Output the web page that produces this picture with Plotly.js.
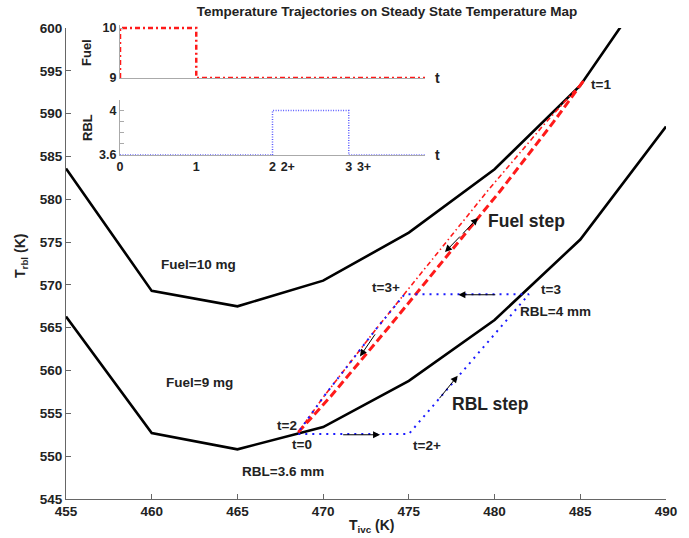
<!DOCTYPE html>
<html>
<head>
<meta charset="utf-8">
<script src="https://cdn.plot.ly/plotly-3.0.1.min.js"></script>
<style>html,body{margin:0;padding:0;background:#fff;}#chart{width:689px;height:538px;}</style>
</head>
<body>
<div id="chart"></div>
<script>
// Steady state temperature map curves
const tivcGrid = [455, 460, 465, 470, 475, 480, 485, 490];
const trblFuel10 = [583.6, 569.3, 567.5, 570.5, 576.1, 583.5, 593.3, 607.8];
const trblFuel9 = [566.3, 552.7, 550.8, 553.4, 558.8, 565.9, 575.3, 588.5];

// Fuel step trajectories (t=0 -> t=1 and t=1 -> t=2)
const fuelUpX = [468.55, 470.45, 473.80, 477.09, 480.34, 483.43, 485.2];
const fuelUpY = [552.8, 557, 565, 573, 581, 589, 593.85];
const fuelDownX = [485.2, 483.0, 479.6, 476.35, 473.15, 470.05, 468.55];
const fuelDownY = [593.85, 589, 581, 573, 565, 557, 552.8];

// RBL step trajectory (t=2 -> 2+ -> 3 -> 3+ -> back to t=0)
const rblPathX = [468.55, 475.0, 482.0, 474.75, 473.15, 470.05, 468.55];
const rblPathY = [552.6, 552.6, 568.9, 568.9, 565, 557, 552.8];

// Inset: input profiles over time
const fuelT = [0, 0, 1, 1, 4];
const fuelV = [9, 10, 10, 9, 9];
const rblT = [0, 2, 2, 3, 3, 4];
const rblV = [3.6, 3.6, 4, 4, 3.6, 3.6];
const insetTickVals = [0, 1, 2, 2.2, 3, 3.2];
const insetTickText = ['0', '1', '2', '2+', '3', '3+'];

// Labels
const labels = [
  {text: 'Fuel=10 mg', x: 462.7, y: 572.44, size: 13.5},
  {text: 'Fuel=9 mg', x: 462.76, y: 558.55, size: 13.5},
  {text: 'RBL=3.6 mm', x: 467.66, y: 548.27, size: 13.5},
  {text: 'RBL=4 mm', x: 483.58, y: 566.95, size: 13.5},
  {text: 't=1', x: 486.21, y: 593.46, size: 13.5},
  {text: 't=3', x: 483.29, y: 569.52, size: 13.5},
  {text: 't=3+', x: 473.67, y: 569.64, size: 13.5},
  {text: 't=2', x: 467.89, y: 553.64, size: 13.5},
  {text: 't=0', x: 468.77, y: 551.42, size: 13.5},
  {text: 't=2+', x: 476.06, y: 551.19, size: 13.5},
  {text: 'Fuel step', x: 481.89, y: 577.46, size: 17.5},
  {text: 'RBL step', x: 479.79, y: 556.09, size: 17.5}
];

// Direction arrows [tailX, tailY, headX, headY]
const arrows = [
  [478.07, 575.83, 479.03, 577.81],
  [478.07, 575.83, 477.11, 573.84],
  [473.09, 564.4, 472.15, 561.65],
  [471.08, 552.5, 473.32, 552.5],
  [480.13, 568.85, 477.89, 568.85],
  [476.72, 556.6, 477.85, 559.4]
];

const FONT = 'Liberation Sans, Arial, Helvetica, sans-serif';
const TXT = '#222';

const traces = [
  {x: tivcGrid, y: trblFuel10, mode: 'lines', line: {color: '#000', width: 2.6}, xaxis: 'x', yaxis: 'y'},
  {x: tivcGrid, y: trblFuel9, mode: 'lines', line: {color: '#000', width: 2.6}, xaxis: 'x', yaxis: 'y'},
  {x: fuelUpX, y: fuelUpY, mode: 'lines', line: {color: '#ff1a1a', width: 3, dash: '8px,4px'}, xaxis: 'x', yaxis: 'y'},
  {x: fuelDownX, y: fuelDownY, mode: 'lines', line: {color: '#ff1a1a', width: 1.6, dash: '5px,3px,1.5px,3px'}, xaxis: 'x', yaxis: 'y'},
  {x: rblPathX, y: rblPathY, mode: 'lines', line: {color: '#1a1aff', width: 2, dash: '2px,5px'}, xaxis: 'x', yaxis: 'y'},
  {x: fuelT, y: fuelV, mode: 'lines', line: {color: '#ff1a1a', width: 2.5, dash: '5px,3px,2px,3px'}, xaxis: 'x2', yaxis: 'y2'},
  {x: rblT, y: rblV, mode: 'lines', line: {color: '#5a5aff', width: 1.5, dash: '1px,1.5px'}, xaxis: 'x3', yaxis: 'y3'}
];

const H = 484; // plot height in px (538 - 15 - 39)
const py = p => (499 - p) / H;
const px = p => (p - 66) / 600;

const annotations = [];
labels.forEach(l => annotations.push({
  text: l.text, x: l.x, y: l.y, xref: 'x', yref: 'y', showarrow: false,
  xanchor: 'center', yanchor: 'middle',
  font: {family: FONT, size: l.size, color: TXT, weight: 'bold'}
}));
arrows.forEach(a => annotations.push({
  text: '', x: a[2], y: a[3], ax: a[0], ay: a[1], xref: 'x', yref: 'y', axref: 'x', ayref: 'y',
  showarrow: true, arrowhead: 2, arrowsize: 1.4, arrowwidth: 1, arrowcolor: '#000', standoff: 0
}));
const paperText = (text, x, y, size, angle) => ({
  text: text, x: px(x), y: py(y), xref: 'paper', yref: 'paper', showarrow: false,
  xanchor: 'center', yanchor: 'middle', textangle: angle || 0,
  font: {family: FONT, size: size, color: TXT, weight: 'bold'}
});
annotations.push(
  paperText('T<sub>ivc</sub> (K)', 372, 526, 14),
  paperText('T<sub>rbl</sub> (K)', 21, 256, 14, -90),
  paperText('Fuel', 87, 53, 13, -90),
  paperText('RBL', 87, 128, 13, -90),
  paperText('t', 437, 78, 14),
  paperText('t', 437, 155, 14)
);

const tickFont = {family: FONT, size: 13.5, color: TXT, weight: 'bold'};
const insetFont = {family: FONT, size: 12.5, color: TXT, weight: 'bold'};

const layout = {
  width: 689, height: 538,
  margin: {l: 66, r: 23, t: 15, b: 39},
  paper_bgcolor: '#fff', plot_bgcolor: 'rgba(0,0,0,0)',
  showlegend: false,
  title: {text: 'Temperature Trajectories on Steady State Temperature Map',
          x: 387 / 689, xanchor: 'center', y: 1 - 11 / 538, yanchor: 'middle',
          font: {family: FONT, size: 13.5, color: TXT, weight: 'bold'}},
  xaxis: {domain: [0, 1], range: [455, 490], dtick: 5, tick0: 455, ticks: 'inside', ticklen: 5,
          tickcolor: '#666', showline: true, linecolor: '#666', linewidth: 1, showgrid: false, zeroline: false,
          tickfont: tickFont, anchor: 'y', fixedrange: true},
  yaxis: {domain: [0, 471 / H], range: [545, 600], dtick: 5, tick0: 545, ticks: 'inside', ticklen: 5,
          tickcolor: '#666', showline: true, linecolor: '#666', linewidth: 1, showgrid: false, zeroline: false,
          tickfont: tickFont, anchor: 'x', fixedrange: true},
  xaxis2: {domain: [px(120), px(425)], range: [0, 4], anchor: 'y2', showline: true, linecolor: '#aaa',
           showticklabels: false, ticks: '', showgrid: false, zeroline: false, fixedrange: true},
  yaxis2: {domain: [py(78), py(25)], range: [9, 10.06], anchor: 'x2', showline: true, linecolor: '#aaa',
           tickvals: [9, 10], ticktext: ['9', '10'], ticks: 'inside', ticklen: 3, tickcolor: '#aaa',
           showgrid: false, zeroline: false, tickfont: insetFont, fixedrange: true},
  xaxis3: {domain: [px(120), px(425)], range: [0, 4], anchor: 'y3', showline: true, linecolor: '#aaa',
           tickvals: insetTickVals, ticktext: insetTickText, ticks: '', showgrid: false, zeroline: false,
           tickfont: insetFont, fixedrange: true},
  yaxis3: {domain: [py(155), py(99.5)], range: [3.6, 4.1], anchor: 'x3', showline: true, linecolor: '#aaa',
           tickvals: [3.6, 3.7, 3.8, 3.9, 4, 4.1], ticktext: ['3.6', ' ', ' ', ' ', '4', ' '],
           ticks: 'inside', ticklen: 4, tickcolor: '#aaa', showgrid: false, zeroline: false,
           tickfont: insetFont, fixedrange: true},
  annotations: annotations
};

Plotly.newPlot('chart', traces, layout, {displayModeBar: false, staticPlot: true});
</script>
</body>
</html>
